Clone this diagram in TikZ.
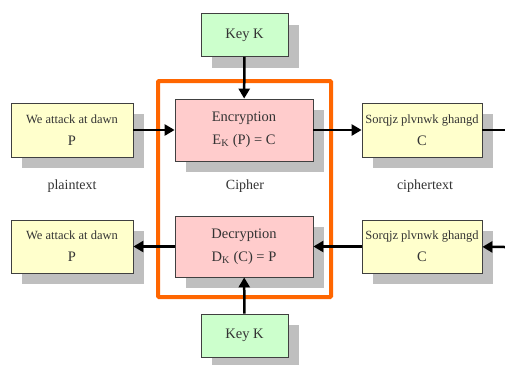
\documentclass[tikz,border=0pt]{standalone}
\usepackage{fontspec}
\setmainfont{Liberation Serif}
\usetikzlibrary{arrows.meta}
\usetikzlibrary{shadows}

\definecolor{plainbg}{HTML}{FFFFCC}
\definecolor{cipherbg}{HTML}{FFCCCC}
\definecolor{keybg}{HTML}{CCFFCC}
\definecolor{shadowgray}{HTML}{BFBFBF}
\definecolor{frameorange}{HTML}{FF6600}
\definecolor{inkgray}{HTML}{333333}

% bigger letter on the second line of a message box
\newcommand{\msgsym}[1]{{\fontsize{14.5}{16}\selectfont #1}}

\begin{document}
\begin{tikzpicture}[x=1pt, y=-1pt,
  box/.style={draw=black!75, line width=.8pt, align=center, text=inkgray, inner sep=0pt,
    drop shadow={shadow xshift=11pt, shadow yshift=-11pt, fill=shadowgray, opacity=1}},
  msgbox/.style={box, fill=plainbg, minimum width=122pt, minimum height=54pt,
    font=\fontsize{12.5}{22}\selectfont},
  algbox/.style={box, fill=cipherbg, minimum width=138pt, minimum height=62pt,
    font=\fontsize{14.5}{23}\selectfont},
  keybox/.style={box, fill=keybg, minimum width=87pt, minimum height=43pt,
    font=\fontsize{14.5}{16}\selectfont},
  tag/.style={text=inkgray, font=\fontsize{14}{16}\selectfont},
  link/.style={black, line width=2.5pt, -{Triangle[length=10pt,width=11pt]}}]
\useasboundingbox (0,0) rectangle (505,364);
\fill[white] (0,0) rectangle (505,364);

\draw[frameorange, line width=4pt, rounded corners=1pt] (158,81) rectangle (331,297);

\node[keybox] (keyenc) at (244.5,35) {Key K};
\node[algbox] (enc) at (244,130) {Encryption\\E\textsubscript{K} (P) = C};
\node[msgbox] (plainin) at (72,130) {We attack at dawn\\\msgsym{P}};
\node[msgbox, minimum width=120pt] (cipherout) at (422,130) {Sorqjz plvnwk ghangd\\\msgsym{C}};

\node[tag] (plainlbl) at (72,186) {plaintext};
\node[tag] (cipherlbl) at (245,186) {Cipher};
\node[tag] (cipherlbl2) at (425,186) {ciphertext};

\node[algbox, minimum height=61pt] (dec) at (244,246.5) {Decryption\\D\textsubscript{K} (C) = P};
\node[msgbox, minimum height=53pt] (plainout) at (72,246.5) {We attack at dawn\\\msgsym{P}};
\node[msgbox, minimum width=120pt, minimum height=53pt] (cipherin) at (422,246.5) {Sorqjz plvnwk ghangd\\\msgsym{C}};
\node[keybox] (keydec) at (244.5,335.5) {Key K};

\coordinate (sendoff) at (505,130);
\coordinate (arrive) at (505,247);

\draw[link] (keyenc) -- (enc);
\draw[link] (plainin) -- (enc);
\draw[link] (enc) -- (cipherout);
\draw[black, line width=2.5pt] (cipherout) -- (sendoff);
\draw[link] (arrive) -- (cipherin);
\draw[link] (cipherin) -- (dec);
\draw[link] (dec) -- (plainout);
\draw[link] (keydec) -- (dec);
\end{tikzpicture}
\end{document}
